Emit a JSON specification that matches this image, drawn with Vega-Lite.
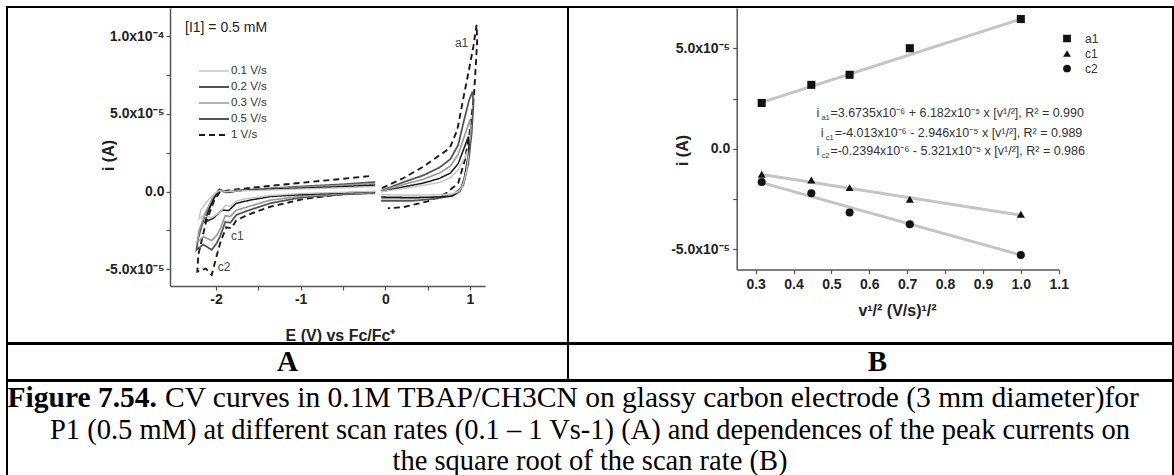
{
  "$schema": "https://vega.github.io/schema/vega-lite/v6.json",
  "background": "white",
  "padding": {"left": 6, "top": 6, "right": 0, "bottom": 0},
  "datasets": {
    "cv": [
      {"r":"1 V/s","s":"c","k":1,"E":-0.15,"i":-0.06e-5},{"r":"1 V/s","s":"c","k":2,"E":-0.57,"i":-0.2e-5},{"r":"1 V/s","s":"c","k":3,"E":-0.97,"i":-0.48e-5},{"r":"1 V/s","s":"c","k":4,"E":-1.36,"i":-0.97e-5},{"r":"1 V/s","s":"c","k":5,"E":-1.63,"i":-1.5e-5},{"r":"1 V/s","s":"c","k":6,"E":-1.76,"i":-1.85e-5},{"r":"1 V/s","s":"c","k":7,"E":-1.82,"i":-2.35e-5},{"r":"1 V/s","s":"c","k":8,"E":-1.88,"i":-2.3e-5},{"r":"1 V/s","s":"c","k":9,"E":-1.95,"i":-3.3e-5},{"r":"1 V/s","s":"c","k":10,"E":-2.0,"i":-4.3e-5},{"r":"1 V/s","s":"c","k":11,"E":-2.05,"i":-5.35e-5},{"r":"1 V/s","s":"c","k":12,"E":-2.12,"i":-4.95e-5},{"r":"1 V/s","s":"c","k":13,"E":-2.22,"i":-5.15e-5},{"r":"1 V/s","s":"c","k":14,"E":-2.21,"i":-4.1e-5},{"r":"1 V/s","s":"c","k":15,"E":-2.12,"i":-2.0e-5},{"r":"1 V/s","s":"c","k":16,"E":-2.02,"i":-0.55e-5},{"r":"1 V/s","s":"c","k":17,"E":-1.95,"i":0.0},{"r":"1 V/s","s":"c","k":18,"E":-1.8,"i":0.12e-5},{"r":"1 V/s","s":"c","k":19,"E":-1.4,"i":0.35e-5},{"r":"1 V/s","s":"c","k":20,"E":-0.97,"i":0.58e-5},{"r":"1 V/s","s":"c","k":21,"E":-0.55,"i":0.8e-5},{"r":"1 V/s","s":"c","k":22,"E":-0.15,"i":1.02e-5},
      {"r":"1 V/s","s":"a","k":1,"E":-0.04,"i":0.22e-5},{"r":"1 V/s","s":"a","k":2,"E":0.21,"i":0.86e-5},{"r":"1 V/s","s":"a","k":3,"E":0.45,"i":1.61e-5},{"r":"1 V/s","s":"a","k":4,"E":0.645,"i":2.36e-5},{"r":"1 V/s","s":"a","k":5,"E":0.76,"i":2.79e-5},{"r":"1 V/s","s":"a","k":6,"E":0.85,"i":3.97e-5},{"r":"1 V/s","s":"a","k":7,"E":0.91,"i":5.69e-5},{"r":"1 V/s","s":"a","k":8,"E":0.98,"i":7.62e-5},{"r":"1 V/s","s":"a","k":9,"E":1.04,"i":9.34e-5},{"r":"1 V/s","s":"a","k":10,"E":1.078,"i":10.73e-5},{"r":"1 V/s","s":"a","k":11,"E":1.085,"i":9.77e-5},{"r":"1 V/s","s":"a","k":12,"E":1.07,"i":8.27e-5},{"r":"1 V/s","s":"a","k":13,"E":1.046,"i":6.12e-5},{"r":"1 V/s","s":"a","k":14,"E":1.0,"i":3.97e-5},{"r":"1 V/s","s":"a","k":15,"E":0.94,"i":2.04e-5},{"r":"1 V/s","s":"a","k":16,"E":0.86,"i":0.54e-5},{"r":"1 V/s","s":"a","k":17,"E":0.72,"i":-0.1e-5},{"r":"1 V/s","s":"a","k":18,"E":0.49,"i":-0.64e-5},{"r":"1 V/s","s":"a","k":19,"E":0.21,"i":-1.0e-5},{"r":"1 V/s","s":"a","k":20,"E":0.03,"i":-1.07e-5},
      {"r":"0.5 V/s","s":"c","k":1,"E":-0.12,"i":-0.1e-5},{"r":"0.5 V/s","s":"c","k":2,"E":-0.5,"i":-0.18e-5},{"r":"0.5 V/s","s":"c","k":3,"E":-1.0,"i":-0.38e-5},{"r":"0.5 V/s","s":"c","k":4,"E":-1.36,"i":-0.75e-5},{"r":"0.5 V/s","s":"c","k":5,"E":-1.64,"i":-1.25e-5},{"r":"0.5 V/s","s":"c","k":6,"E":-1.76,"i":-1.5e-5},{"r":"0.5 V/s","s":"c","k":7,"E":-1.83,"i":-2.0e-5},{"r":"0.5 V/s","s":"c","k":8,"E":-1.89,"i":-1.95e-5},{"r":"0.5 V/s","s":"c","k":9,"E":-1.95,"i":-2.85e-5},{"r":"0.5 V/s","s":"c","k":10,"E":-1.99,"i":-3.3e-5},{"r":"0.5 V/s","s":"c","k":11,"E":-2.05,"i":-3.75e-5},{"r":"0.5 V/s","s":"c","k":12,"E":-2.15,"i":-3.4e-5},{"r":"0.5 V/s","s":"c","k":13,"E":-2.23,"i":-3.75e-5},{"r":"0.5 V/s","s":"c","k":14,"E":-2.21,"i":-3.0e-5},{"r":"0.5 V/s","s":"c","k":15,"E":-2.13,"i":-1.5e-5},{"r":"0.5 V/s","s":"c","k":16,"E":-2.03,"i":-0.4e-5},{"r":"0.5 V/s","s":"c","k":17,"E":-1.96,"i":0.1e-5},{"r":"0.5 V/s","s":"c","k":18,"E":-1.88,"i":-0.05e-5},{"r":"0.5 V/s","s":"c","k":19,"E":-1.7,"i":0.08e-5},{"r":"0.5 V/s","s":"c","k":20,"E":-1.4,"i":0.2e-5},{"r":"0.5 V/s","s":"c","k":21,"E":-1.0,"i":0.33e-5},{"r":"0.5 V/s","s":"c","k":22,"E":-0.5,"i":0.47e-5},{"r":"0.5 V/s","s":"c","k":23,"E":-0.12,"i":0.62e-5},
      {"r":"0.5 V/s","s":"a","k":1,"E":-0.05,"i":0.05e-5},{"r":"0.5 V/s","s":"a","k":2,"E":0.21,"i":0.6e-5},{"r":"0.5 V/s","s":"a","k":3,"E":0.45,"i":1.05e-5},{"r":"0.5 V/s","s":"a","k":4,"E":0.64,"i":1.55e-5},{"r":"0.5 V/s","s":"a","k":5,"E":0.77,"i":2.1e-5},{"r":"0.5 V/s","s":"a","k":6,"E":0.86,"i":3.0e-5},{"r":"0.5 V/s","s":"a","k":7,"E":0.93,"i":4.6e-5},{"r":"0.5 V/s","s":"a","k":8,"E":0.99,"i":5.9e-5},{"r":"0.5 V/s","s":"a","k":9,"E":1.03,"i":6.44e-5},{"r":"0.5 V/s","s":"a","k":10,"E":1.04,"i":5.6e-5},{"r":"0.5 V/s","s":"a","k":11,"E":1.02,"i":3.8e-5},{"r":"0.5 V/s","s":"a","k":12,"E":0.98,"i":1.8e-5},{"r":"0.5 V/s","s":"a","k":13,"E":0.92,"i":0.4e-5},{"r":"0.5 V/s","s":"a","k":14,"E":0.8,"i":-0.25e-5},{"r":"0.5 V/s","s":"a","k":15,"E":0.6,"i":-0.45e-5},{"r":"0.5 V/s","s":"a","k":16,"E":0.3,"i":-0.6e-5},{"r":"0.5 V/s","s":"a","k":17,"E":-0.05,"i":-0.6e-5},
      {"r":"0.3 V/s","s":"c","k":1,"E":-0.12,"i":-0.05e-5},{"r":"0.3 V/s","s":"c","k":2,"E":-0.5,"i":-0.12e-5},{"r":"0.3 V/s","s":"c","k":3,"E":-1.0,"i":-0.3e-5},{"r":"0.3 V/s","s":"c","k":4,"E":-1.36,"i":-0.55e-5},{"r":"0.3 V/s","s":"c","k":5,"E":-1.64,"i":-1.0e-5},{"r":"0.3 V/s","s":"c","k":6,"E":-1.76,"i":-1.2e-5},{"r":"0.3 V/s","s":"c","k":7,"E":-1.83,"i":-1.6e-5},{"r":"0.3 V/s","s":"c","k":8,"E":-1.89,"i":-1.55e-5},{"r":"0.3 V/s","s":"c","k":9,"E":-1.95,"i":-2.4e-5},{"r":"0.3 V/s","s":"c","k":10,"E":-1.99,"i":-2.8e-5},{"r":"0.3 V/s","s":"c","k":11,"E":-2.05,"i":-3.15e-5},{"r":"0.3 V/s","s":"c","k":12,"E":-2.15,"i":-2.9e-5},{"r":"0.3 V/s","s":"c","k":13,"E":-2.22,"i":-3.25e-5},{"r":"0.3 V/s","s":"c","k":14,"E":-2.2,"i":-2.5e-5},{"r":"0.3 V/s","s":"c","k":15,"E":-2.12,"i":-1.3e-5},{"r":"0.3 V/s","s":"c","k":16,"E":-2.03,"i":-0.3e-5},{"r":"0.3 V/s","s":"c","k":17,"E":-1.96,"i":0.12e-5},{"r":"0.3 V/s","s":"c","k":18,"E":-1.88,"i":0.0},{"r":"0.3 V/s","s":"c","k":19,"E":-1.7,"i":0.1e-5},{"r":"0.3 V/s","s":"c","k":20,"E":-1.4,"i":0.18e-5},{"r":"0.3 V/s","s":"c","k":21,"E":-1.0,"i":0.28e-5},{"r":"0.3 V/s","s":"c","k":22,"E":-0.5,"i":0.4e-5},{"r":"0.3 V/s","s":"c","k":23,"E":-0.12,"i":0.52e-5},
      {"r":"0.3 V/s","s":"a","k":1,"E":-0.05,"i":0.05e-5},{"r":"0.3 V/s","s":"a","k":2,"E":0.21,"i":0.45e-5},{"r":"0.3 V/s","s":"a","k":3,"E":0.45,"i":0.8e-5},{"r":"0.3 V/s","s":"a","k":4,"E":0.64,"i":1.2e-5},{"r":"0.3 V/s","s":"a","k":5,"E":0.77,"i":1.65e-5},{"r":"0.3 V/s","s":"a","k":6,"E":0.86,"i":2.4e-5},{"r":"0.3 V/s","s":"a","k":7,"E":0.93,"i":3.5e-5},{"r":"0.3 V/s","s":"a","k":8,"E":0.98,"i":4.3e-5},{"r":"0.3 V/s","s":"a","k":9,"E":1.0,"i":4.6e-5},{"r":"0.3 V/s","s":"a","k":10,"E":1.01,"i":4.0e-5},{"r":"0.3 V/s","s":"a","k":11,"E":0.99,"i":2.8e-5},{"r":"0.3 V/s","s":"a","k":12,"E":0.95,"i":1.2e-5},{"r":"0.3 V/s","s":"a","k":13,"E":0.9,"i":0.2e-5},{"r":"0.3 V/s","s":"a","k":14,"E":0.8,"i":-0.2e-5},{"r":"0.3 V/s","s":"a","k":15,"E":0.6,"i":-0.35e-5},{"r":"0.3 V/s","s":"a","k":16,"E":0.3,"i":-0.45e-5},{"r":"0.3 V/s","s":"a","k":17,"E":-0.05,"i":-0.45e-5},
      {"r":"0.2 V/s","s":"c","k":1,"E":-0.12,"i":0.0},{"r":"0.2 V/s","s":"c","k":2,"E":-0.5,"i":-0.08e-5},{"r":"0.2 V/s","s":"c","k":3,"E":-1.0,"i":-0.2e-5},{"r":"0.2 V/s","s":"c","k":4,"E":-1.36,"i":-0.32e-5},{"r":"0.2 V/s","s":"c","k":5,"E":-1.6,"i":-0.55e-5},{"r":"0.2 V/s","s":"c","k":6,"E":-1.76,"i":-0.75e-5},{"r":"0.2 V/s","s":"c","k":7,"E":-1.85,"i":-1.22e-5},{"r":"0.2 V/s","s":"c","k":8,"E":-1.93,"i":-1.18e-5},{"r":"0.2 V/s","s":"c","k":9,"E":-2.03,"i":-1.71e-5},{"r":"0.2 V/s","s":"c","k":10,"E":-2.13,"i":-1.95e-5},{"r":"0.2 V/s","s":"c","k":11,"E":-2.1,"i":-1.4e-5},{"r":"0.2 V/s","s":"c","k":12,"E":-2.03,"i":-0.5e-5},{"r":"0.2 V/s","s":"c","k":13,"E":-1.96,"i":0.15e-5},{"r":"0.2 V/s","s":"c","k":14,"E":-1.92,"i":0.05e-5},{"r":"0.2 V/s","s":"c","k":15,"E":-1.85,"i":-0.02e-5},{"r":"0.2 V/s","s":"c","k":16,"E":-1.7,"i":0.08e-5},{"r":"0.2 V/s","s":"c","k":17,"E":-1.4,"i":0.15e-5},{"r":"0.2 V/s","s":"c","k":18,"E":-1.0,"i":0.22e-5},{"r":"0.2 V/s","s":"c","k":19,"E":-0.5,"i":0.32e-5},{"r":"0.2 V/s","s":"c","k":20,"E":-0.12,"i":0.42e-5},
      {"r":"0.2 V/s","s":"a","k":1,"E":-0.05,"i":0.0},{"r":"0.2 V/s","s":"a","k":2,"E":0.21,"i":0.3e-5},{"r":"0.2 V/s","s":"a","k":3,"E":0.45,"i":0.55e-5},{"r":"0.2 V/s","s":"a","k":4,"E":0.64,"i":0.85e-5},{"r":"0.2 V/s","s":"a","k":5,"E":0.77,"i":1.2e-5},{"r":"0.2 V/s","s":"a","k":6,"E":0.86,"i":1.8e-5},{"r":"0.2 V/s","s":"a","k":7,"E":0.93,"i":2.8e-5},{"r":"0.2 V/s","s":"a","k":8,"E":0.98,"i":3.54e-5},{"r":"0.2 V/s","s":"a","k":9,"E":0.99,"i":3.0e-5},{"r":"0.2 V/s","s":"a","k":10,"E":0.97,"i":2.0e-5},{"r":"0.2 V/s","s":"a","k":11,"E":0.93,"i":0.8e-5},{"r":"0.2 V/s","s":"a","k":12,"E":0.88,"i":0.0},{"r":"0.2 V/s","s":"a","k":13,"E":0.78,"i":-0.3e-5},{"r":"0.2 V/s","s":"a","k":14,"E":0.6,"i":-0.35e-5},{"r":"0.2 V/s","s":"a","k":15,"E":0.3,"i":-0.38e-5},{"r":"0.2 V/s","s":"a","k":16,"E":-0.05,"i":-0.35e-5},
      {"r":"0.1 V/s","s":"c","k":1,"E":-0.12,"i":0.02e-5},{"r":"0.1 V/s","s":"c","k":2,"E":-0.5,"i":-0.04e-5},{"r":"0.1 V/s","s":"c","k":3,"E":-1.0,"i":-0.12e-5},{"r":"0.1 V/s","s":"c","k":4,"E":-1.36,"i":-0.25e-5},{"r":"0.1 V/s","s":"c","k":5,"E":-1.64,"i":-0.45e-5},{"r":"0.1 V/s","s":"c","k":6,"E":-1.76,"i":-0.6e-5},{"r":"0.1 V/s","s":"c","k":7,"E":-1.83,"i":-0.95e-5},{"r":"0.1 V/s","s":"c","k":8,"E":-1.89,"i":-0.9e-5},{"r":"0.1 V/s","s":"c","k":9,"E":-1.95,"i":-1.3e-5},{"r":"0.1 V/s","s":"c","k":10,"E":-2.0,"i":-1.5e-5},{"r":"0.1 V/s","s":"c","k":11,"E":-2.05,"i":-1.68e-5},{"r":"0.1 V/s","s":"c","k":12,"E":-2.15,"i":-1.55e-5},{"r":"0.1 V/s","s":"c","k":13,"E":-2.2,"i":-1.75e-5},{"r":"0.1 V/s","s":"c","k":14,"E":-2.18,"i":-1.2e-5},{"r":"0.1 V/s","s":"c","k":15,"E":-2.1,"i":-0.6e-5},{"r":"0.1 V/s","s":"c","k":16,"E":-2.02,"i":-0.15e-5},{"r":"0.1 V/s","s":"c","k":17,"E":-1.96,"i":0.08e-5},{"r":"0.1 V/s","s":"c","k":18,"E":-1.88,"i":0.0},{"r":"0.1 V/s","s":"c","k":19,"E":-1.7,"i":0.05e-5},{"r":"0.1 V/s","s":"c","k":20,"E":-1.4,"i":0.1e-5},{"r":"0.1 V/s","s":"c","k":21,"E":-1.0,"i":0.17e-5},{"r":"0.1 V/s","s":"c","k":22,"E":-0.5,"i":0.25e-5},{"r":"0.1 V/s","s":"c","k":23,"E":-0.12,"i":0.33e-5},
      {"r":"0.1 V/s","s":"a","k":1,"E":-0.05,"i":0.0},{"r":"0.1 V/s","s":"a","k":2,"E":0.21,"i":0.2e-5},{"r":"0.1 V/s","s":"a","k":3,"E":0.45,"i":0.4e-5},{"r":"0.1 V/s","s":"a","k":4,"E":0.64,"i":0.6e-5},{"r":"0.1 V/s","s":"a","k":5,"E":0.77,"i":0.9e-5},{"r":"0.1 V/s","s":"a","k":6,"E":0.86,"i":1.4e-5},{"r":"0.1 V/s","s":"a","k":7,"E":0.93,"i":2.1e-5},{"r":"0.1 V/s","s":"a","k":8,"E":0.97,"i":2.6e-5},{"r":"0.1 V/s","s":"a","k":9,"E":0.98,"i":2.2e-5},{"r":"0.1 V/s","s":"a","k":10,"E":0.96,"i":1.4e-5},{"r":"0.1 V/s","s":"a","k":11,"E":0.92,"i":0.5e-5},{"r":"0.1 V/s","s":"a","k":12,"E":0.87,"i":0.0},{"r":"0.1 V/s","s":"a","k":13,"E":0.78,"i":-0.15e-5},{"r":"0.1 V/s","s":"a","k":14,"E":0.6,"i":-0.2e-5},{"r":"0.1 V/s","s":"a","k":15,"E":0.3,"i":-0.22e-5},{"r":"0.1 V/s","s":"a","k":16,"E":-0.05,"i":-0.2e-5}
    ],
    "notesA": [
      {"t":"[I1] = 0.5 mM","E":-2.366,"i":10.53e-5,"kind":"big"},
      {"t":"a1","E":0.822,"i":9.58e-5,"kind":"small"},
      {"t":"c1","E":-1.823,"i":-2.85e-5,"kind":"small"},
      {"t":"c2","E":-1.98,"i":-4.87e-5,"kind":"small"}
    ],
    "peaks": [
      {"series":"a1","v":0.316,"i":2.28e-5},{"series":"a1","v":0.447,"i":3.18e-5},{"series":"a1","v":0.548,"i":3.68e-5},{"series":"a1","v":0.707,"i":5.0e-5},{"series":"a1","v":1.0,"i":6.45e-5},
      {"series":"c1","v":0.316,"i":-1.27e-5},{"series":"c1","v":0.447,"i":-1.55e-5},{"series":"c1","v":0.548,"i":-1.93e-5},{"series":"c1","v":0.707,"i":-2.51e-5},{"series":"c1","v":1.0,"i":-3.25e-5},
      {"series":"c2","v":0.316,"i":-1.65e-5},{"series":"c2","v":0.447,"i":-2.21e-5},{"series":"c2","v":0.548,"i":-3.17e-5},{"series":"c2","v":0.707,"i":-3.75e-5},{"series":"c2","v":1.0,"i":-5.28e-5}
    ],
    "fits": [
      {"series":"a1","v":0.316,"i":2.31e-5},{"series":"a1","v":1.0,"i":6.45e-5},
      {"series":"c1","v":0.316,"i":-1.27e-5},{"series":"c1","v":1.0,"i":-3.3e-5},
      {"series":"c2","v":0.316,"i":-1.68e-5},{"series":"c2","v":1.0,"i":-5.28e-5}
    ],
    "eqs": [
      {"lhs":"i","sub":"a1","rest":"=3.6735x10⁻⁶ + 6.182x10⁻⁵ x [v¹/²], R² = 0.990","v":0.4604,"i":1.78e-5},
      {"lhs":"i","sub":"c1","rest":"=-4.013x10⁻⁶ - 2.946x10⁻⁵ x [v¹/²], R² = 0.989","v":0.4717,"i":0.79e-5},
      {"lhs":"i","sub":"c2","rest":"=-0.2394x10⁻⁶ - 5.321x10⁻⁵ x [v¹/²], R² = 0.986","v":0.4604,"i":-0.12e-5}
    ],
    "caption": [
      {"line":1,"part":"b","t":"Figure 7.54."},
      {"line":1,"part":"r","t":"CV curves in 0.1M TBAP/CH3CN on glassy carbon electrode (3 mm diameter)for"},
      {"line":2,"part":"c","t":"P1 (0.5 mM) at different scan rates (0.1 – 1 Vs-1) (A) and dependences of the peak currents on"},
      {"line":3,"part":"c","t":"the square root of the scan rate (B)"}
    ]
  },
  "spacing": -2,
  "vconcat": [
    {
      "spacing": 0,
      "bounds": "flush",
      "hconcat": [
        {
          "width": 561,
          "height": 336,
          "layer": [
            {
              "data": {"name": "cv"},
              "mark": {"type": "line"},
              "encoding": {
                "x": {"field": "E", "type": "quantitative",
                  "scale": {"domain": [-2.543, 1.177], "range": [163, 478], "nice": false, "zero": false},
                  "axis": {"values": [-2, -1.5, -1, -0.5, 0, 0.5, 1], "labelExpr": "datum.value % 1 == 0 ? '' + datum.value : ''", "offset": -57, "title": "E (V) vs Fc/Fc⁺", "titleX": 333, "titleY": 49, "titleBaseline": "middle"}},
                "y": {"field": "i", "type": "quantitative",
                  "scale": {"domain": [-6.07e-5, 1.181e-4], "range": [279, 1], "nice": false, "zero": false},
                  "axis": {"values": [-5e-5, -2.5e-5, 0, 2.5e-5, 5e-5, 7.5e-5, 1e-4], "labelExpr": "abs(datum.value) < 1e-9 ? '0.0' : abs(datum.value - 1e-4) < 1e-9 ? '1.0x10⁻⁴' : abs(datum.value - 5e-5) < 1e-9 ? '5.0x10⁻⁵' : abs(datum.value + 5e-5) < 1e-9 ? '-5.0x10⁻⁵' : ''", "offset": -163, "title": "i (A)", "titleX": -62, "titleY": 148, "titleBaseline": "middle"}},
                "color": {"field": "r", "type": "nominal",
                  "scale": {"domain": ["0.1 V/s", "0.2 V/s", "0.3 V/s", "0.5 V/s", "1 V/s"], "range": ["#c4c4c4", "#1a1a1a", "#9a9a9a", "#555555", "#1a1a1a"]},
                  "legend": {"orient": "none", "legendX": 191, "legendY": 56, "title": null, "symbolType": "stroke", "symbolSize": 900, "clipHeight": 16, "rowPadding": 0, "labelOffset": 1, "labelFontSize": 11.5, "labelColor": "#333", "padding": 0}},
                "strokeDash": {"field": "r", "type": "nominal",
                  "scale": {"domain": ["0.1 V/s", "0.2 V/s", "0.3 V/s", "0.5 V/s", "1 V/s"], "range": [[1, 0], [1, 0], [1, 0], [1, 0], [6, 4]]},
                  "legend": {"orient": "none", "legendX": 191, "legendY": 56, "title": null, "symbolType": "stroke", "symbolSize": 900, "clipHeight": 16, "rowPadding": 0, "labelOffset": 1, "labelFontSize": 11.5, "labelColor": "#333", "padding": 0}},
                "strokeWidth": {"field": "r", "type": "nominal",
                  "scale": {"domain": ["0.1 V/s", "0.2 V/s", "0.3 V/s", "0.5 V/s", "1 V/s"], "range": [1.4, 1.9, 1.4, 1.4, 1.6]},
                  "legend": {"orient": "none", "legendX": 191, "legendY": 56, "title": null, "symbolType": "stroke", "symbolSize": 900, "clipHeight": 16, "rowPadding": 0, "labelOffset": 1, "labelFontSize": 11.5, "labelColor": "#333", "padding": 0}},
                "detail": {"field": "s"},
                "order": {"field": "k", "type": "quantitative"}
              }
            },
            {
              "data": {"name": "notesA"},
              "transform": [{"filter": "datum.kind == 'big'"}],
              "mark": {"type": "text", "align": "left", "baseline": "middle", "fontSize": 14, "color": "#222"},
              "encoding": {"x": {"field": "E", "type": "quantitative"}, "y": {"field": "i", "type": "quantitative"}, "text": {"field": "t"}}
            },
            {
              "data": {"name": "notesA"},
              "transform": [{"filter": "datum.kind == 'small'"}],
              "mark": {"type": "text", "align": "left", "baseline": "middle", "fontSize": 12, "color": "#444"},
              "encoding": {"x": {"field": "E", "type": "quantitative"}, "y": {"field": "i", "type": "quantitative"}, "text": {"field": "t"}}
            }
          ]
        },
        {
          "width": 605,
          "height": 336,
          "layer": [
            {
              "data": {"name": "fits"},
              "mark": {"type": "line", "color": "#c4c4c4", "strokeWidth": 3},
              "encoding": {
                "x": {"field": "v", "type": "quantitative",
                  "scale": {"domain": [0.25, 1.1], "range": [168.7, 490.7], "nice": false, "zero": false},
                  "axis": {"values": [0.3, 0.4, 0.5, 0.6, 0.7, 0.8, 0.9, 1, 1.1], "format": ".1f", "offset": -73.5, "labelPadding": 4, "title": "v¹/² (V/s)¹/²", "titleX": 329, "titleY": 41, "titleBaseline": "middle"}},
                "y": {"field": "i", "type": "quantitative",
                  "scale": {"domain": [-6e-5, 7e-5], "range": [262.5, 1], "nice": false, "zero": false},
                  "axis": {"values": [-5e-5, -2.5e-5, 0, 2.5e-5, 5e-5], "labelExpr": "abs(datum.value) < 1e-9 ? '0.0' : abs(datum.value - 5e-5) < 1e-9 ? '5.0x10⁻⁵' : abs(datum.value + 5e-5) < 1e-9 ? '-5.0x10⁻⁵' : ''", "offset": -168.7, "labelPadding": 3, "title": "i (A)", "titleX": -54, "titleY": 143, "titleBaseline": "middle"}},
                "detail": {"field": "series"}
              }
            },
            {
              "data": {"name": "peaks"},
              "mark": {"type": "point", "filled": true, "color": "#111", "size": 65, "opacity": 1},
              "encoding": {
                "x": {"field": "v", "type": "quantitative"},
                "y": {"field": "i", "type": "quantitative"},
                "shape": {"field": "series", "type": "nominal",
                  "scale": {"domain": ["a1", "c1", "c2"], "range": ["square", "triangle-up", "circle"]},
                  "legend": {"orient": "none", "legendX": 1054, "legendY": 24, "title": null, "symbolSize": 60, "clipHeight": 15, "rowPadding": 0, "labelOffset": 12, "labelFontSize": 12, "labelColor": "#333", "padding": 0, "symbolFillColor": "#111", "symbolStrokeColor": "#111"}}
              }
            },
            {
              "data": {"name": "eqs"},
              "mark": {"type": "text", "align": "left", "baseline": "middle", "fontSize": 12.5, "color": "#333"},
              "encoding": {"x": {"field": "v", "type": "quantitative"}, "y": {"field": "i", "type": "quantitative"}, "text": {"field": "lhs"}}
            },
            {
              "data": {"name": "eqs"},
              "mark": {"type": "text", "align": "left", "baseline": "middle", "fontSize": 7.5, "dx": 5, "dy": 5, "color": "#333"},
              "encoding": {"x": {"field": "v", "type": "quantitative"}, "y": {"field": "i", "type": "quantitative"}, "text": {"field": "sub"}}
            },
            {
              "data": {"name": "eqs"},
              "mark": {"type": "text", "align": "left", "baseline": "middle", "fontSize": 12.5, "dx": 14, "color": "#333"},
              "encoding": {"x": {"field": "v", "type": "quantitative"}, "y": {"field": "i", "type": "quantitative"}, "text": {"field": "rest"}}
            }
          ]
        }
      ]
    },
    {
      "spacing": 0,
      "bounds": "flush",
      "hconcat": [
        {
          "width": 561,
          "height": 36,
          "data": {"values": [{"t": "A", "pos": 0.5}]},
          "mark": {"type": "text", "font": "Liberation Serif", "fontWeight": "bold", "fontSize": 29, "baseline": "middle", "color": "#000"},
          "encoding": {
            "y": {"field": "pos", "type": "quantitative", "scale": {"domain": [0, 1], "nice": false, "zero": false}, "axis": null},
            "text": {"field": "t"}
          }
        },
        {
          "width": 605,
          "height": 36,
          "data": {"values": [{"t": "B", "pos": 0.5}]},
          "mark": {"type": "text", "font": "Liberation Serif", "fontWeight": "bold", "fontSize": 29, "baseline": "middle", "dx": 7, "color": "#000"},
          "encoding": {
            "y": {"field": "pos", "type": "quantitative", "scale": {"domain": [0, 1], "nice": false, "zero": false}, "axis": null},
            "text": {"field": "t"}
          }
        }
      ]
    },
    {
      "width": 1166,
      "height": 95,
      "data": {"name": "caption"},
      "encoding": {
        "y": {"field": "line", "type": "quantitative", "scale": {"domain": [0.45, 3.46], "reverse": true, "nice": false, "zero": false}, "axis": null},
        "text": {"field": "t"}
      },
      "layer": [
        {"transform": [{"filter": "datum.part == 'b'"}], "mark": {"type": "text", "font": "Liberation Serif", "fontWeight": "bold", "fontSize": 29.5, "align": "right", "baseline": "middle", "dx": -433, "color": "#000"}},
        {"transform": [{"filter": "datum.part == 'r'"}], "mark": {"type": "text", "font": "Liberation Serif", "fontSize": 29.5, "align": "left", "baseline": "middle", "dx": -425, "color": "#000"}},
        {"transform": [{"filter": "datum.part == 'c'"}], "mark": {"type": "text", "font": "Liberation Serif", "fontSize": 28.5, "align": "center", "baseline": "middle", "color": "#000"}}
      ]
    }
  ],
  "config": {
    "view": {"stroke": "#000", "strokeWidth": 2},
    "axis": {"grid": false, "domainColor": "#555", "domainWidth": 1.5, "tickColor": "#555", "tickWidth": 1.2, "tickSize": 4, "labelFont": "Liberation Sans", "labelFontSize": 14, "labelFontWeight": "bold", "labelColor": "#222", "labelPadding": 2, "labelOverlap": false, "labelFlush": false, "titleFont": "Liberation Sans", "titleFontSize": 16, "titleFontWeight": "bold", "titleColor": "#222"},
    "legend": {"labelFont": "Liberation Sans"},
    "text": {"font": "Liberation Sans"}
  }
}
